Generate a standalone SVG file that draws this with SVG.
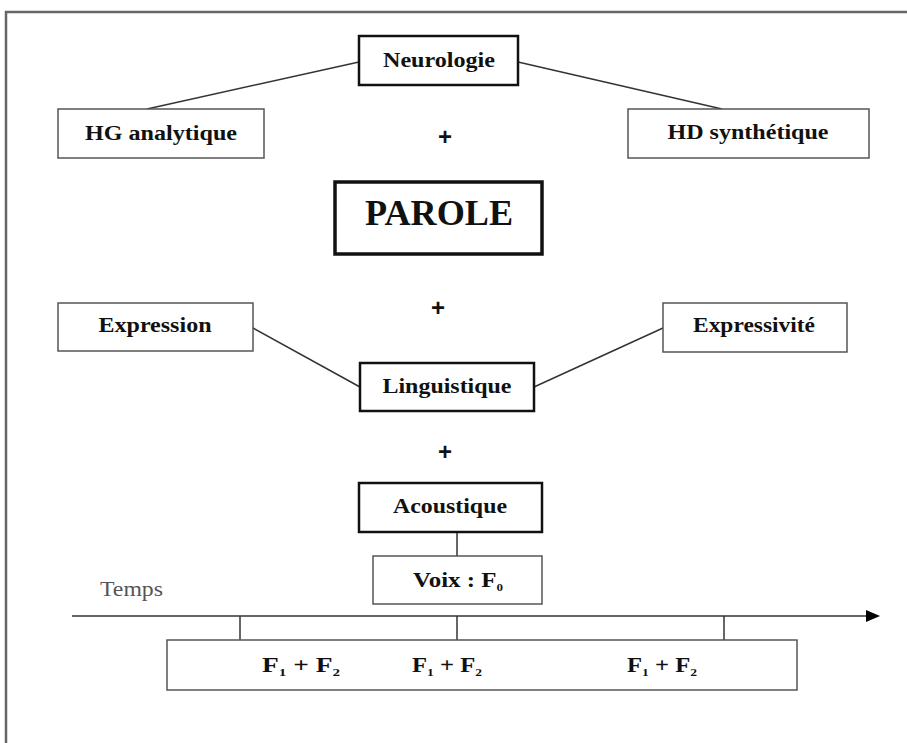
<svg xmlns="http://www.w3.org/2000/svg" width="907" height="743" viewBox="0 0 907 743">
<style>
.bg{fill:#ffffff}
.frame{fill:none;stroke:#666;stroke-width:2.5}
.thin{fill:#fff;stroke:#555;stroke-width:1.5}
.thick{fill:#fff;stroke:#111;stroke-width:2.5}
.heavy{fill:#fff;stroke:#111;stroke-width:3.5}
.lbl{font-family:"Liberation Serif","Times New Roman",serif;font-weight:bold;font-size:20px;fill:#111;text-anchor:middle}
.plus{font-family:"Liberation Sans",Arial,sans-serif;font-weight:bold;font-size:24px;fill:#111;text-anchor:middle}
.conn{stroke:#333;stroke-width:1.5;fill:none}
.sub{font-size:11px}
</style>
<defs>
<marker id="arr" markerWidth="16" markerHeight="14" refX="1" refY="7" orient="auto" markerUnits="userSpaceOnUse">
<path d="M1,1 L15,7 L1,13 Z" fill="#000"/>
</marker>
</defs>
<rect class="bg" x="0" y="0" width="907" height="743"/>
<polyline class="frame" points="6,743 6,12 907,12"/>

<g id="connectors">
<line class="conn" x1="359" y1="62" x2="147" y2="109"/>
<line class="conn" x1="518" y1="62" x2="722" y2="109"/>
<line class="conn" x1="253" y1="328" x2="360" y2="387"/>
<line class="conn" x1="534" y1="387" x2="663" y2="328"/>
<line class="conn" x1="457" y1="532" x2="457" y2="556"/>
<line class="conn" x1="72" y1="616" x2="866" y2="616" marker-end="url(#arr)"/>
<line class="conn" x1="240" y1="616" x2="240" y2="640"/>
<line class="conn" x1="457" y1="616" x2="457" y2="640"/>
<line class="conn" x1="724" y1="616" x2="724" y2="640"/>
</g>

<g id="neurologie">
<rect class="thick" x="359" y="36" width="159" height="49"/>
<text class="lbl" x="439" y="67" textLength="112" lengthAdjust="spacingAndGlyphs">Neurologie</text>
</g>
<g id="hg">
<rect class="thin" x="58" y="109" width="206" height="49"/>
<text class="lbl" x="161" y="140" textLength="152" lengthAdjust="spacingAndGlyphs">HG analytique</text>
</g>
<g id="hd">
<rect class="thin" x="628" y="109" width="241" height="49"/>
<text class="lbl" x="748" y="139" textLength="161" lengthAdjust="spacingAndGlyphs">HD synthétique</text>
</g>
<g id="plus1"><text class="plus" x="445" y="145">+</text></g>
<g id="parole">
<rect class="heavy" x="335" y="182" width="207" height="72"/>
<text class="lbl" x="439" y="225" style="font-size:35px" textLength="148" lengthAdjust="spacingAndGlyphs">PAROLE</text>
</g>
<g id="plus2"><text class="plus" x="438" y="316">+</text></g>
<g id="expression">
<rect class="thin" x="58" y="303" width="195" height="48"/>
<text class="lbl" x="155" y="332" textLength="113" lengthAdjust="spacingAndGlyphs">Expression</text>
</g>
<g id="expressivite">
<rect class="thin" x="663" y="303" width="184" height="49"/>
<text class="lbl" x="754" y="332" textLength="122" lengthAdjust="spacingAndGlyphs">Expressivité</text>
</g>
<g id="linguistique">
<rect class="thick" x="360" y="363" width="174" height="48"/>
<text class="lbl" x="447" y="393" textLength="129" lengthAdjust="spacingAndGlyphs">Linguistique</text>
</g>
<g id="plus3"><text class="plus" x="445" y="460">+</text></g>
<g id="acoustique">
<rect class="thick" x="359" y="483" width="183" height="49"/>
<text class="lbl" x="450" y="513" textLength="114" lengthAdjust="spacingAndGlyphs">Acoustique</text>
</g>
<g id="voix">
<rect class="thin" x="373" y="556" width="169" height="48"/>
<text class="lbl" x="458" y="587" style="font-size:21px" textLength="90" lengthAdjust="spacingAndGlyphs">Voix : F<tspan class="sub" dy="4">0</tspan></text>
</g>
<g id="temps">
<text x="100" y="596" style="font-family:'Liberation Serif','Times New Roman',serif;font-size:20px;fill:#555" textLength="63" lengthAdjust="spacingAndGlyphs">Temps</text>
</g>
<g id="formants">
<rect class="thin" x="167" y="640" width="630" height="50"/>
<text class="lbl" x="301" y="672" textLength="78" lengthAdjust="spacingAndGlyphs">F<tspan class="sub" dy="4">1</tspan><tspan dy="-4"> + F</tspan><tspan class="sub" dy="4">2</tspan></text>
<text class="lbl" x="447" y="672" textLength="70" lengthAdjust="spacingAndGlyphs">F<tspan class="sub" dy="4">1</tspan><tspan dy="-4"> + F</tspan><tspan class="sub" dy="4">2</tspan></text>
<text class="lbl" x="662" y="672" textLength="70" lengthAdjust="spacingAndGlyphs">F<tspan class="sub" dy="4">1</tspan><tspan dy="-4"> + F</tspan><tspan class="sub" dy="4">2</tspan></text>
</g>
</svg>
